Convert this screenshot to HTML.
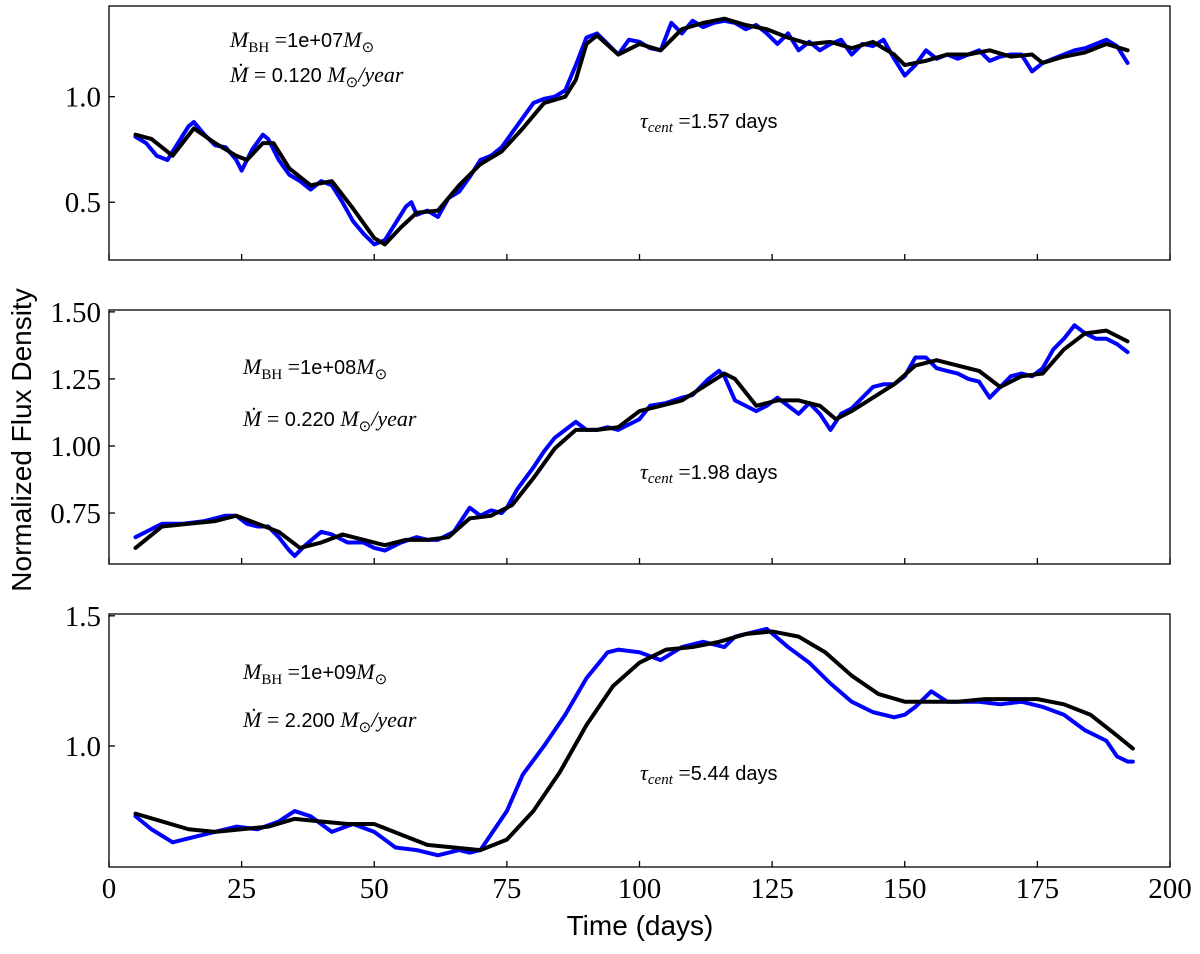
<!DOCTYPE html>
<html><head><meta charset="utf-8"><style>
body{margin:0;background:#fff}
svg text{fill:#000}
.tk{font-family:"Liberation Serif",serif;font-size:29px}
.ann{font-family:"Liberation Serif",serif;font-size:22px}
.sans{font-family:"Liberation Sans",sans-serif}
</style></head><body>
<svg id="chart" width="1200" height="949" xmlns="http://www.w3.org/2000/svg">
<text class="sans" font-size="28" transform="translate(31,440) rotate(-90)" text-anchor="middle">Normalized Flux Density</text>
<text class="sans" font-size="28" x="640" y="935" text-anchor="middle">Time (days)</text>
</svg>
<script>
const p1BlueT=[5,7,9,11,13,15,16,18,20,22,24,25,27,29,30,32,34,36,38,40,42,44,46,48,50,52,54,56,57,58,60,62,64,66,68,70,72,74,76,78,80,82,84,86,88,90,92,94,96,98,100,102,104,106,108,110,112,114,116,118,120,122,124,126,128,130,132,134,136,138,140,142,144,146,148,150,152,154,156,158,160,162,164,166,168,170,172,174,176,178,180,182,184,186,188,190,192];
const p1BlueV=[0.81,0.78,0.72,0.70,0.78,0.86,0.88,0.82,0.77,0.76,0.70,0.65,0.75,0.82,0.80,0.70,0.63,0.60,0.56,0.60,0.58,0.50,0.41,0.35,0.30,0.32,0.40,0.48,0.50,0.44,0.46,0.43,0.52,0.55,0.62,0.70,0.72,0.76,0.83,0.90,0.97,0.99,1.00,1.03,1.15,1.28,1.30,1.25,1.20,1.27,1.26,1.23,1.22,1.35,1.30,1.36,1.33,1.35,1.36,1.35,1.32,1.34,1.30,1.25,1.30,1.22,1.26,1.22,1.25,1.27,1.20,1.25,1.24,1.27,1.18,1.10,1.15,1.22,1.18,1.20,1.18,1.20,1.22,1.17,1.19,1.20,1.20,1.12,1.16,1.18,1.20,1.22,1.23,1.25,1.27,1.24,1.16];
const p1BlackT=[5,8,12,16,20,24,26,29,31,34,38,42,46,50,52,55,58,62,66,70,74,78,82,86,88,90,92,96,100,104,108,112,116,120,124,128,132,136,140,144,148,150,154,158,162,166,170,174,176,180,184,188,192];
const p1BlackV=[0.82,0.80,0.72,0.85,0.78,0.72,0.70,0.78,0.78,0.66,0.58,0.60,0.47,0.33,0.30,0.38,0.45,0.46,0.58,0.68,0.74,0.85,0.97,1.00,1.08,1.25,1.29,1.20,1.25,1.22,1.32,1.35,1.37,1.34,1.32,1.28,1.25,1.26,1.23,1.26,1.20,1.15,1.17,1.20,1.20,1.22,1.19,1.20,1.16,1.19,1.21,1.25,1.22];
const p2BlueT=[5,8,10,14,18,22,24,26,28,30,32,34,35,37,40,42,45,48,50,52,55,58,60,62,65,68,70,72,74,75,77,80,82,84,86,88,90,92,94,96,100,102,105,108,110,113,115,116,118,120,122,124,126,128,130,132,134,136,138,140,142,144,146,148,150,152,154,156,158,160,162,164,166,168,170,172,174,176,178,180,182,184,186,188,190,192];
const p2BlueV=[0.66,0.69,0.71,0.71,0.72,0.74,0.74,0.71,0.70,0.70,0.66,0.61,0.59,0.63,0.68,0.67,0.64,0.64,0.62,0.61,0.64,0.66,0.65,0.65,0.68,0.77,0.74,0.76,0.75,0.77,0.84,0.92,0.98,1.03,1.06,1.09,1.06,1.06,1.07,1.06,1.10,1.15,1.16,1.18,1.19,1.25,1.28,1.26,1.17,1.15,1.13,1.15,1.18,1.15,1.12,1.16,1.12,1.06,1.12,1.14,1.18,1.22,1.23,1.23,1.26,1.33,1.33,1.29,1.28,1.27,1.25,1.24,1.18,1.22,1.26,1.27,1.26,1.29,1.36,1.40,1.45,1.42,1.40,1.40,1.38,1.35];
const p2BlackT=[5,10,15,20,24,28,32,36,40,44,48,52,56,60,64,68,72,76,80,84,88,92,96,100,104,108,112,116,118,122,126,130,134,137,140,144,148,152,156,160,164,168,172,176,180,184,188,192];
const p2BlackV=[0.62,0.70,0.71,0.72,0.74,0.71,0.68,0.62,0.64,0.67,0.65,0.63,0.65,0.65,0.66,0.73,0.74,0.78,0.88,0.99,1.06,1.06,1.07,1.13,1.15,1.17,1.22,1.27,1.25,1.15,1.17,1.17,1.15,1.10,1.13,1.18,1.23,1.30,1.32,1.30,1.28,1.22,1.26,1.27,1.36,1.42,1.43,1.39];
const p3BlueT=[5,8,12,16,20,24,28,32,35,38,42,46,50,54,58,62,66,68,70,72,75,78,82,86,90,94,96,100,104,108,112,116,118,122,124,128,132,136,140,144,148,150,152,155,158,160,164,168,172,176,180,184,188,190,192,193];
const p3BlueV=[0.73,0.68,0.63,0.65,0.67,0.69,0.68,0.71,0.75,0.73,0.67,0.70,0.67,0.61,0.60,0.58,0.60,0.59,0.60,0.66,0.75,0.89,1.00,1.12,1.26,1.36,1.37,1.36,1.33,1.38,1.40,1.38,1.42,1.44,1.45,1.38,1.32,1.24,1.17,1.13,1.11,1.12,1.15,1.21,1.17,1.17,1.17,1.16,1.17,1.15,1.12,1.06,1.02,0.96,0.94,0.94];
const p3BlackT=[5,10,15,20,25,30,35,40,45,50,55,60,65,70,75,80,85,90,95,100,105,110,115,120,125,130,135,140,145,150,155,160,165,170,175,180,185,190,193];
const p3BlackV=[0.74,0.71,0.68,0.67,0.68,0.69,0.72,0.71,0.70,0.70,0.66,0.62,0.61,0.60,0.64,0.75,0.90,1.08,1.23,1.32,1.37,1.38,1.40,1.43,1.44,1.42,1.36,1.27,1.20,1.17,1.17,1.17,1.18,1.18,1.18,1.16,1.12,1.04,0.99];
const xTicks=[0,25,50,75,100,125,150,175,200];
const p1Ticks=[0.5,1.0], p1Labels=["0.5","1.0"];
const p2Ticks=[0.75,1.0,1.25,1.5], p2Labels=["0.75","1.00","1.25","1.50"];
const p3Ticks=[1.0,1.5], p3Labels=["1.0","1.5"];

const NS="http://www.w3.org/2000/svg";
const svg=document.getElementById('chart');
const X0=109,X1=1170;
const xs=t=>X0+(t-0)/(200-0)*(X1-X0);
function mk(tag,attrs,parent){const e=document.createElementNS(NS,tag);for(const k in attrs)e.setAttribute(k,attrs[k]);(parent||svg).appendChild(e);return e;}
const panels=[
 {top:6,bot:260,vmin:0.226,vmax:1.43,ticks:p1Ticks,labels:p1Labels,bT:p1BlueT,bV:p1BlueV,kT:p1BlackT,kV:p1BlackV,mbh:"1e+07",mdot:"0.120",tau:"1.57",ax:230,ty:[47,82,128],tx:640},
 {top:310,bot:564,vmin:0.56,vmax:1.507,ticks:p2Ticks,labels:p2Labels,bT:p2BlueT,bV:p2BlueV,kT:p2BlackT,kV:p2BlackV,mbh:"1e+08",mdot:"0.220",tau:"1.98",ax:243,ty:[374,426,479],tx:640},
 {top:614,bot:867,vmin:0.535,vmax:1.507,ticks:p3Ticks,labels:p3Labels,bT:p3BlueT,bV:p3BlueV,kT:p3BlackT,kV:p3BlackV,mbh:"1e+09",mdot:"2.200",tau:"5.44",ax:243,ty:[679,727,780],tx:640}
];
panels.forEach((p,i)=>{
 const g=mk('g',{});
 
 
 const ys=v=>p.bot-(v-p.vmin)/(p.vmax-p.vmin)*(p.bot-p.top);
 mk('clipPath',{id:'c'+i},g);
 mk('rect',{x:X0,y:p.top,width:X1-X0,height:p.bot-p.top},g.lastChild);
 p.ticks.forEach((v,j)=>{
  const y=ys(v);
  const tl=mk('line',{x1:X0,x2:X0+6,y1:y,y2:y,stroke:'#000','stroke-width':1.3},g);
  
  
  const tx=mk('text',{x:X0-8,y:y+10,'text-anchor':'end',class:'tk'},g);
  
  
  tx.textContent=p.labels[j];
 });
 xTicks.forEach(t=>{
  const tl=mk('line',{x1:xs(t),x2:xs(t),y1:p.bot,y2:p.bot-6,stroke:'#000','stroke-width':1.3},g);
  
  
 });
 const line=(T,V,color,name)=>{
  const pl=mk('polyline',{points:T.map((t,k)=>xs(t)+','+ys(V[k])).join(' '),fill:'none',stroke:color,'stroke-width':4,'stroke-linejoin':'round','stroke-linecap':'round','clip-path':'url(#c'+i+')'},g);
  
  
 };
 line(p.bT,p.bV,'#0000ff','blue-series');
 line(p.kT,p.kV,'#000','black-series');
 const fr=mk('rect',{x:X0,y:p.top,width:X1-X0,height:p.bot-p.top,fill:'none',stroke:'#000','stroke-width':1.3},g);
 
 
 const t1=mk('text',{x:p.ax,y:p.ty[0],class:'ann'},g);
 
 
 t1.innerHTML='<tspan font-style="italic">M</tspan><tspan font-size="15" dy="5">BH</tspan><tspan dy="-5"> =</tspan><tspan class="sans" font-size="20">'+p.mbh+'</tspan><tspan font-style="italic">M</tspan><tspan font-size="15" dy="5">⊙</tspan>';
 const t2=mk('text',{x:p.ax,y:p.ty[1],class:'ann'},g);
 
 
 t2.innerHTML='<tspan font-style="italic">Ṁ</tspan> = <tspan class="sans" font-size="20">'+p.mdot+'</tspan> <tspan font-style="italic">M</tspan><tspan font-size="15" dy="5">⊙</tspan><tspan dy="-5" font-style="italic">/year</tspan>';
 const t3=mk('text',{x:p.tx,y:p.ty[2],class:'ann'},g);
 
 
 t3.innerHTML='<tspan font-style="italic">τ</tspan><tspan font-size="15" font-style="italic" dy="4">cent</tspan><tspan dy="-4"> =</tspan><tspan class="sans" font-size="20">'+p.tau+' days</tspan>';
});
xTicks.forEach(t=>{
 const tx=mk('text',{x:xs(t),y:898,'text-anchor':'middle',class:'tk'});
 
 
 tx.textContent=t;
});
</script>
</body></html>
